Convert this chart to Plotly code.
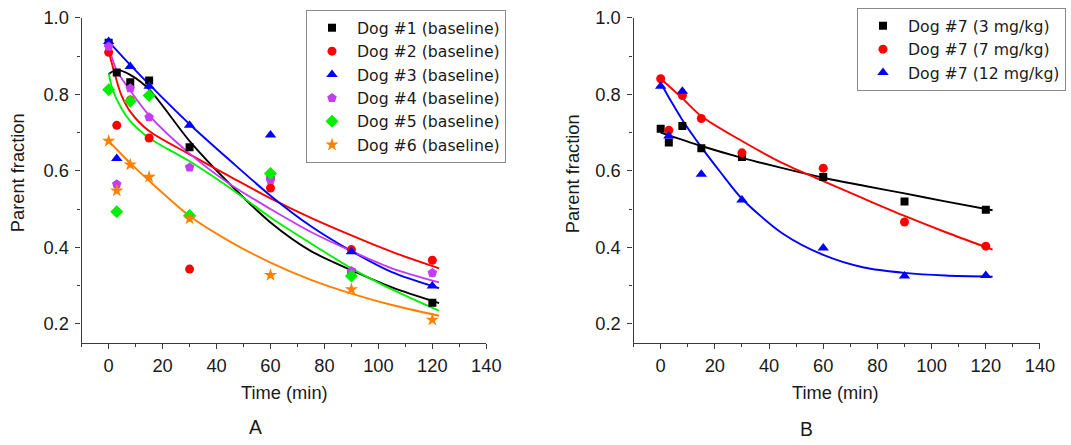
import plotly.graph_objects as go

W, H = 1071, 445

# Sampling times (min)
times = [0, 3, 8, 15, 30, 60, 90, 120]

# Panel A: parent fraction per dog (baseline)
dog1 = [0.935, 0.857, 0.832, 0.836, 0.662, 0.585, 0.335, 0.255]
dog2 = [0.910, 0.719, 0.785, 0.686, 0.343, 0.555, 0.394, 0.366]
dog3 = [0.938, 0.632, 0.873, 0.821, 0.719, 0.694, 0.388, 0.299]
dog4 = [0.925, 0.565, 0.816, 0.740, 0.609, 0.576, 0.338, 0.333]
dog5 = [0.812, 0.493, 0.782, 0.797, 0.483, 0.593, 0.325, None]
dog6 = [0.678, 0.548, 0.616, 0.584, 0.475, 0.327, 0.290, 0.210]

# Panel A: fitted curves (time, fraction)
fit1_t = [0, 3, 8, 15, 30, 45, 60, 75, 90, 105, 122.5]
fit1_v = [0.853, 0.864, 0.851, 0.813, 0.678, 0.565, 0.465, 0.390, 0.340, 0.295, 0.254]
fit2_t = [0, 2, 4.6, 8, 15, 30, 45, 60, 75, 90, 105, 122.5]
fit2_v = [0.912, 0.860, 0.800, 0.755, 0.704, 0.643, 0.585, 0.528, 0.477, 0.431, 0.388, 0.345]
fit3_t = [0, 8, 15, 30, 45, 60, 75, 90, 105, 122.5]
fit3_v = [0.938, 0.877, 0.826, 0.722, 0.627, 0.535, 0.455, 0.390, 0.335, 0.293]
fit4_t = [0, 3, 8, 15, 30, 45, 60, 75, 90, 105, 122.5]
fit4_v = [0.925, 0.862, 0.810, 0.745, 0.645, 0.565, 0.500, 0.440, 0.390, 0.345, 0.308]
fit5_t = [0, 1.5, 4.6, 8, 15, 30, 45, 60, 75, 90, 105, 122.5]
fit5_v = [0.855, 0.812, 0.765, 0.730, 0.686, 0.625, 0.555, 0.478, 0.410, 0.345, 0.290, 0.234]
fit6_t = [0, 8, 15, 30, 45, 60, 75, 90, 105, 122.5]
fit6_v = [0.678, 0.620, 0.574, 0.482, 0.415, 0.360, 0.315, 0.279, 0.249, 0.221]

# Panel B: dog #7 at three doses
dose3 = [0.710, 0.674, 0.717, 0.659, 0.636, 0.584, 0.520, 0.498]
dose7 = [0.841, 0.706, 0.797, 0.737, 0.647, 0.607, 0.466, 0.403]
dose12 = [0.821, 0.691, 0.808, 0.591, 0.524, 0.398, 0.325, 0.326]

fitb1_t = [0, 15, 30, 45, 60, 75, 90, 105, 122.5]
fitb1_v = [0.700, 0.665, 0.634, 0.607, 0.582, 0.561, 0.541, 0.520, 0.497]
fitb2_t = [0, 8, 15, 30, 45, 60, 75, 90, 105, 122.5]
fitb2_v = [0.841, 0.790, 0.743, 0.678, 0.620, 0.573, 0.527, 0.482, 0.440, 0.394]
fitb3_t = [0, 4, 8, 15, 22, 30, 45, 60, 75, 90, 105, 122.5]
fitb3_v = [0.830, 0.780, 0.733, 0.662, 0.597, 0.527, 0.436, 0.380, 0.347, 0.333, 0.326, 0.323]

names_a = ["Dog #1 (baseline)", "Dog #2 (baseline)", "Dog #3 (baseline)",
           "Dog #4 (baseline)", "Dog #5 (baseline)", "Dog #6 (baseline)"]
names_b = ["Dog #7 (3 mg/kg)", "Dog #7 (7 mg/kg)", "Dog #7 (12 mg/kg)"]

BLACK, RED, BLUE = "#000000", "#FF0000", "#0000FF"
VIOLET, GREEN, ORANGE = "#C43CF5", "#00EE00", "#FF8000"

series_a = [
    (dog1, fit1_t, fit1_v, BLACK, "square", 8),
    (dog2, fit2_t, fit2_v, RED, "circle", 9),
    (dog3, fit3_t, fit3_v, BLUE, "triangle-up", 10),
    (dog4, fit4_t, fit4_v, VIOLET, "pentagon", 10),
    (dog5, fit5_t, fit5_v, GREEN, "diamond", 10),
    (dog6, fit6_t, fit6_v, ORANGE, "star", 10),
]
series_b = [
    (dose3, fitb1_t, fitb1_v, BLACK, "square", 8),
    (dose7, fitb2_t, fitb2_v, RED, "circle", 9),
    (dose12, fitb3_t, fitb3_v, BLUE, "triangle-up", 10),
]

fig = go.Figure()

def add_panel(series, names, xa, ya, legend):
    for (vals, ft, fv, col, sym, sz) in series:
        fig.add_trace(go.Scatter(
            x=ft, y=fv, mode="lines", xaxis=xa, yaxis=ya,
            line=dict(color=col, width=1.9, shape="spline", smoothing=0.8),
            showlegend=False, hoverinfo="skip"))
    for (vals, ft, fv, col, sym, sz), nm in zip(series, names):
        fig.add_trace(go.Scatter(
            x=times, y=vals, mode="markers", name=nm, xaxis=xa, yaxis=ya,
            legend=legend,
            marker=dict(color=col, symbol=sym, size=sz, line=dict(width=0))))

add_panel(series_a, names_a, "x", "y", "legend")
add_panel(series_b, names_b, "x2", "y2", "legend2")

# page-pixel -> paper-fraction helpers (page is shown slightly scaled and shifted)
SC, OX, OY = 0.986, 1.0, 9.0

def px_x(p):
    return (p - OX) / SC / W

def px_y(p):
    return 1 - (p - OY) / SC / H

SANS = "Liberation Sans, Arial, sans-serif"
LEG = "DejaVu Sans, sans-serif"
ydom = [px_y(344.5), px_y(16)]
AXCOL = "#3a3a3a"
tickfont = dict(family=SANS, size=18.3, color="#1a1a1a")

def xaxis_cfg(dom, anchor):
    return dict(domain=dom, anchor=anchor, range=[-10, 140], tick0=0, dtick=20,
                showline=True, linecolor=AXCOL, linewidth=1.4, mirror=False,
                ticks="outside", ticklen=5, tickwidth=1.2, tickcolor=AXCOL,
                showgrid=False, zeroline=False, tickfont=tickfont,
                ticklabelstandoff=1, ticklabeloverflow="allow",
                minor=dict(dtick=10, tick0=0, ticks="outside", ticklen=3,
                           tickwidth=1.2, tickcolor=AXCOL, showgrid=False))

def yaxis_cfg(anchor):
    return dict(domain=ydom, anchor=anchor, range=[0.15, 1.0], tick0=0.2, dtick=0.2,
                tickformat=".1f", showline=True, linecolor=AXCOL, linewidth=1.4,
                ticks="outside", ticklen=5, tickwidth=1.2, tickcolor=AXCOL,
                showgrid=False, zeroline=False, tickfont=tickfont,
                ticklabelstandoff=3, ticklabeloverflow="allow",
                minor=dict(dtick=0.1, tick0=0.2, ticks="outside", ticklen=3,
                           tickwidth=1.2, tickcolor=AXCOL, showgrid=False))

legend_font = dict(family=LEG, size=15.7, color="#1a1a1a")

fig.update_layout(
    width=W, height=H,
    margin=dict(l=0, r=0, t=0, b=0),
    paper_bgcolor="white", plot_bgcolor="white",
    font=dict(family=SANS, color="#1a1a1a"),
    xaxis=xaxis_cfg([px_x(82.7), px_x(487.3)], "y"),
    yaxis=yaxis_cfg("x"),
    xaxis2=xaxis_cfg([px_x(634.6), px_x(1041)], "y2"),
    yaxis2=yaxis_cfg("x2"),
    legend=dict(x=px_x(307), y=px_y(8), xanchor="left", yanchor="top",
                bgcolor="white", bordercolor="#8a8a8a", borderwidth=1,
                font=legend_font, tracegroupgap=0, itemwidth=40),
    legend2=dict(x=px_x(858), y=px_y(6), xanchor="left", yanchor="top",
                 bgcolor="white", bordercolor="#8a8a8a", borderwidth=1,
                 font=legend_font, tracegroupgap=0, itemwidth=40),
)

title_font = dict(family=SANS, size=18.3, color="#1a1a1a")
annos = [
    dict(text="Time (min)", x=px_x(286), y=px_y(395), font=title_font),
    dict(text="Time (min)", x=px_x(837), y=px_y(395), font=title_font),
    dict(text="Parent fraction", x=px_x(18), y=px_y(172), font=title_font, textangle=-90),
    dict(text="Parent fraction", x=px_x(573), y=px_y(173), font=title_font, textangle=-90),
    dict(text="A", x=px_x(257), y=px_y(430), font=dict(family=SANS, size=19.3, color="#1a1a1a")),
    dict(text="B", x=px_x(808), y=px_y(432), font=dict(family=SANS, size=19.3, color="#1a1a1a")),
]
for a in annos:
    fig.add_annotation(xref="paper", yref="paper", xanchor="center", yanchor="middle",
                       showarrow=False, **a)

fig.write_html("out.html")
